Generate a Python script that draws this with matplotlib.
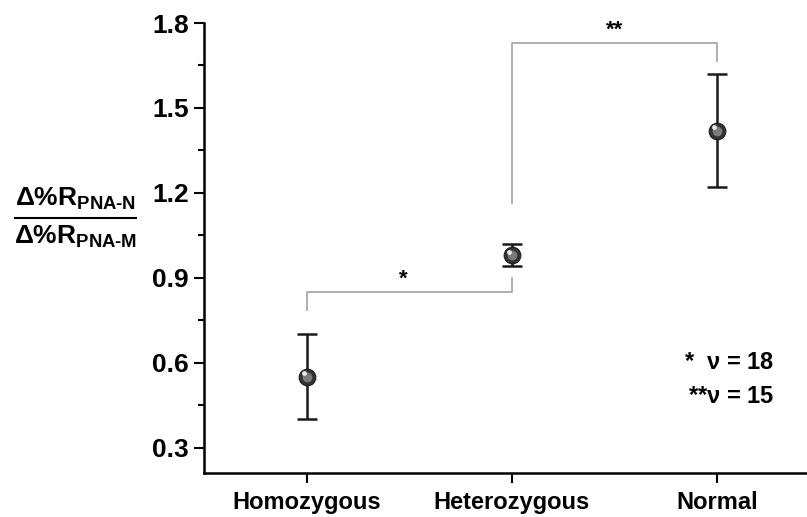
import matplotlib.pyplot as plt
from matplotlib.lines import Line2D

plt.rcParams['font.family'] = ['Liberation Sans', 'DejaVu Sans']
plt.rcParams['font.weight'] = 'bold'
plt.rcParams['mathtext.fontset'] = 'custom'
plt.rcParams['mathtext.rm'] = 'Liberation Sans:bold'
plt.rcParams['mathtext.bf'] = 'Liberation Sans:bold'
plt.rcParams['mathtext.it'] = 'Liberation Sans:bold'

groups = ['Homozygous', 'Heterozygous', 'Normal']
means = [0.55, 0.98, 1.42]
lower = [0.40, 0.94, 1.22]
upper = [0.70, 1.02, 1.62]
yticks = [0.3, 0.6, 0.9, 1.2, 1.5, 1.8]

fig = plt.figure(figsize=(8.07, 5.17), dpi=100)
ax = fig.add_axes([0.2528, 0.085, 0.75, 0.8705])

x = [1, 2, 3]
yerr = [[m - l for m, l in zip(means, lower)], [u - m for m, u in zip(means, upper)]]
ax.errorbar(x, means, yerr=yerr, fmt='none', ecolor='#1a1a1a', elinewidth=1.8,
            capsize=7, capthick=1.8, zorder=2)
# shaded sphere look
ax.plot(x, means, 'o', ms=12, mfc='#333333', mec='#1e1e1e', mew=0.8, zorder=3)
ax.plot(x, means, 'o', ms=7, mfc='#7a7a7a', mec='none', zorder=4)
ax.plot([xi - 0.012 for xi in x], [m + 0.012 for m in means], 'o', ms=3.5,
        mfc='#e8e8e8', mec='none', zorder=5)

# significance brackets
br = '#a8a8a8'
ax.plot([1, 1, 2, 2], [0.785, 0.848, 0.848, 0.90], color=br, lw=1.3, zorder=1)
ax.text(1.47, 0.857, '*', ha='center', va='bottom', fontsize=16)
ax.plot([2, 2, 3, 3], [1.163, 1.729, 1.729, 1.666], color=br, lw=1.3, zorder=1)
ax.text(2.5, 1.738, '**', ha='center', va='bottom', fontsize=16)

ax.text(3.28, 0.599, r'*  $\nu$ = 18', ha='right', va='center', fontsize=17)
ax.text(3.28, 0.479, r'**$\nu$ = 15', ha='right', va='center', fontsize=17)

ax.set_xlim(0.5, 3.45)
ax.set_ylim(0.21, 1.8)
ax.set_xticks(x)
ax.set_xticklabels(groups, fontsize=17, fontweight='bold')
ax.set_yticks(yticks)
ax.set_yticklabels([f'{v:.1f}' for v in yticks], fontsize=19, fontweight='bold')
ax.set_yticks([0.45, 0.75, 1.05, 1.35, 1.65], minor=True)
ax.tick_params(axis='y', which='major', direction='out', length=7, width=1.5, pad=4)
ax.tick_params(axis='y', which='minor', direction='out', length=4, width=1.5)
ax.tick_params(axis='x', direction='out', length=7, width=1.5, pad=6)
for s in ['top', 'right']:
    ax.spines[s].set_visible(False)
for s in ['left', 'bottom']:
    ax.spines[s].set_linewidth(1.8)

# y label as a fraction
fig.text(0.093, 0.59, r'$\Delta$%R$_{\rm PNA\text{-}N}$', ha='center', va='bottom', fontsize=19)
fig.text(0.093, 0.567, r'$\Delta$%R$_{\rm PNA\text{-}M}$', ha='center', va='top', fontsize=19)
fig.add_artist(Line2D([0.018, 0.169], [0.578, 0.578], color='black', lw=1.5,
                      transform=fig.transFigure))

fig.savefig('out.png', dpi=100)
